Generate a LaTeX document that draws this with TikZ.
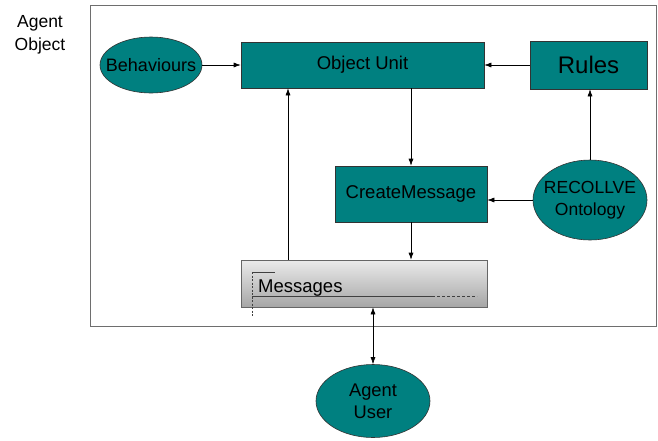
\documentclass[tikz,border=0pt]{standalone}
\usepackage{fontspec}
\setmainfont{Liberation Sans}
\usetikzlibrary{shapes.geometric,arrows.meta}
\definecolor{tealfill}{RGB}{0,128,128}
\definecolor{boxline}{RGB}{110,110,110}
\begin{document}
\begin{tikzpicture}[x=1pt,y=-1pt,
  tbox/.style={draw=black!80,fill=tealfill,line width=0.6pt,font=\fontsize{18.5}{21}\selectfont},
  tell/.style={ellipse,draw=black!80,fill=tealfill,line width=0.6pt,inner sep=0pt},
  etext/.style={font=\fontsize{18}{22}\selectfont,align=center,inner sep=0pt},
  arr/.style={-{Latex[length=7pt,width=5pt]},line width=0.6pt}]
\useasboundingbox (0,0) rectangle (658,440);
\node[align=center,font=\fontsize{17.5}{22.5}\selectfont] (lbl) at (40,35) {Agent\\Object};
\draw[boxline,line width=1pt] (90,5) rectangle (656,326);
\node[tell,minimum width=102pt,minimum height=56pt] (beh) at (151,65) {};
\node[etext] (behT) at (beh.center) {Behaviours};
\node[tbox,minimum width=243pt,minimum height=46pt] (ou) at (362.5,65) {Object Unit};
\node[tbox,minimum width=117pt,minimum height=48pt,font=\fontsize{24}{26}\selectfont] (rules) at (588.5,65) {Rules};
\node[tbox,minimum width=152pt,minimum height=56pt] (cm) at (411,194) {CreateMessage};
\node[tell,minimum width=114pt,minimum height=80pt] (rec) at (590,200) {};
\node[etext,font=\fontsize{17.5}{22}\selectfont] (recT) at (rec.center) {RECOLLVE\\Ontology};
\node[draw=black!60,line width=0.6pt,top color=black!8,bottom color=black!35,minimum width=246pt,minimum height=47pt] (msg) at (364,283.5) {};
\node[anchor=base west,font=\fontsize{18.5}{20}\selectfont,inner sep=0pt] (msgt) at (258,292) {Messages};
\draw[black!75,line width=0.6pt] (252,272) -- (275,272);
\draw[black!75,line width=0.6pt,dashed,dash pattern=on 2pt off 1.5pt] (252,272) -- (252,317);
\draw[black!75,line width=0.6pt] (252,296) -- (432,296);
\draw[black!75,line width=0.6pt,dash pattern=on 3pt off 2pt] (432,296) -- (477,296);
\node[tell,minimum width=114pt,minimum height=73pt] (au) at (373,401) {};
\node[etext,font=\fontsize{18.3}{22}\selectfont] (auT) at (au.center) {Agent\\User};
\draw[arr] (beh.east) -- (ou.west);
\draw[arr] (rules.west) -- (ou.east);
\draw[arr] (ou.south -| cm.north) -- (cm.north);
\draw[arr] (rec.north) -- (rec.north |- rules.south);
\draw[arr] (rec.west) -- (rec.west -| cm.east);
\draw[arr] (cm.south) -- (cm.south |- msg.north);
\draw[arr] (msg.north -| 288,0) -- (ou.south -| 288,0);
\draw[{Latex[length=7pt,width=5pt]}-{Latex[length=7pt,width=5pt]},line width=0.6pt] (msg.south -| au.north) -- (au.north);
\end{tikzpicture}
\end{document}
